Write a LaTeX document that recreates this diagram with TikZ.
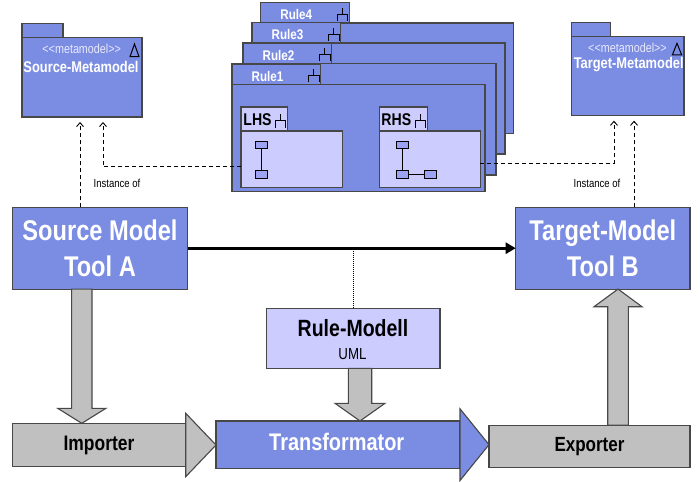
\documentclass[tikz,border=0pt]{standalone}
\usepackage{fontspec}
\setmainfont{Liberation Sans}[FakeStretch=0.83]
\usetikzlibrary{arrows.meta,calc}

\definecolor{pkgblue}{HTML}{7B8CE3}
\definecolor{lav}{HTML}{CCCCFF}
\definecolor{elemfill}{HTML}{9CA3F2}
\definecolor{edgegray}{HTML}{474747}
\definecolor{blockgray}{HTML}{C0C0C0}
\definecolor{stereo}{HTML}{E8EAFF}

\newcommand\fsz[2]{\fontsize{#1}{#2}\selectfont}

% UML subsystem glyph: stem on top, bar, two legs
\newcommand\forkicon[4]{% #1 left, #2 top, #3 width, #4 height
  \draw[line width=1pt,black] (#1+#3/2,#2) -- (#1+#3/2,#2+#4/2)
    (#1,#2+#4) -- (#1,#2+#4/2) -- (#1+#3,#2+#4/2) -- (#1+#3,#2+#4);}

% one rule package of the stack: tab with label and glyph, plus body
\newcommand\rulepkg[5]{% #1 name, #2 label, #3 left, #4 top, #5 bottom
  \node[pkgbox, anchor=north west, minimum width=88.5pt, minimum height=20.3pt] (#1tab) at (#3,#4) {};
  \node[pkgbox, anchor=north west, minimum width=253pt, minimum height={#5-#4-20.3}] (#1) at (#3,#4+20.3) {};
  \node[font=\fsz{14}{16}\bfseries, text=white] (#1label) at (#3+35.5,#4+12) {#2};
  \forkicon{#3+76.3}{#4+5.3}{10.7}{13};}

% vertical block arrow: #1 centre x, #2 half shaft, #3 half head, #4 signed head length
\newcommand\vblockarrow[6]{%
  \draw[grayblk] let \p1=(#5), \p2=(#6) in
    (#1pt-#2pt,\y1) -- (#1pt+#2pt,\y1) -- (#1pt+#2pt,\y2+#4pt) -- (#1pt+#3pt,\y2+#4pt)
    -- (#1pt,\y2) -- (#1pt-#3pt,\y2+#4pt) -- (#1pt-#2pt,\y2+#4pt) -- cycle;}

\begin{document}
\begin{tikzpicture}[x=1pt,y=-1pt,
  pkg/.style={draw=edgegray, line width=1.1pt, fill=pkgblue},
  pkgbox/.style={pkg, rectangle, inner sep=0pt, outer sep=0pt},
  lavbox/.style={draw=edgegray, line width=1.1pt, fill=lav, rectangle, inner sep=0pt, outer sep=0pt},
  graybox/.style={draw=edgegray, line width=1.1pt, fill=blockgray, rectangle, inner sep=0pt, outer sep=0pt},
  elem/.style={draw=black, line width=0.9pt, fill=elemfill, rectangle, inner sep=0pt, outer sep=0pt,
    minimum width=11.6pt, minimum height=7.3pt},
  grayblk/.style={fill=blockgray, draw=edgegray, line width=1.1pt},
  dep/.style={dash pattern=on 4pt off 3pt, line width=0.9pt, shorten >=5pt,
    -{Straight Barb[length=4pt,width=7pt]}},
  bigtext/.style={text=white, font=\fsz{28.5}{36.3}\bfseries, align=center},
  stereotext/.style={text=stereo, font=\fsz{13}{15}},
  mmtitle/.style={text=white, font=\fsz{15.5}{18}\bfseries},
  note/.style={font=\fsz{11.5}{13}}
]
\useasboundingbox (0,0) rectangle (700,481);

% ---------- metamodel packages ----------
\node[pkgbox, minimum width=120pt, minimum height=79.5pt] (srcmm) at (82,77.25) {};
\draw[pkg] (srcmm.north west) rectangle ++(41,-14);
\node[stereotext] (srcst) at (81.7,48.5) {<\kern0pt<metamodel>\kern0pt>};
\draw[line width=1pt] (130,56.7) -- (134.5,44) -- (139,56.7) -- cycle;
\node[mmtitle] (srcname) at (81,66.7) {Source-Metamodel};

\node[pkgbox, minimum width=112.3pt, minimum height=79pt] (tgtmm) at (627.85,76.2) {};
\draw[pkg] (tgtmm.north west) rectangle ++(39,-14);
\node[stereotext] (tgtst) at (627.5,47.5) {<\kern0pt<metamodel>\kern0pt>};
\draw[line width=1pt] (672.3,55) -- (677,43.3) -- (681.7,55) -- cycle;
\node[mmtitle] (tgtname) at (628.7,65) {Target-Metamodel};

% ---------- stack of rules ----------
\rulepkg{rulefour}{Rule4}{260.7}{2.7}{133.3}
\rulepkg{rulethree}{Rule3}{252}{22.7}{154}
\rulepkg{ruletwo}{Rule2}{243}{43}{175}
\rulepkg{ruleone}{Rule1}{232}{64}{191.7}

% left and right hand sides of Rule1
\node[lavbox, anchor=north west, minimum width=46.7pt, minimum height=24pt] (lhstab) at (241,107) {};
\node[lavbox, anchor=north west, minimum width=101.3pt, minimum height=56.3pt] (lhs) at (241,131) {};
\node[font=\fsz{17}{19}\bfseries] (lhslabel) at (257.5,119.3) {LHS};
\forkicon{275}{114.3}{10.7}{13.4}

\node[lavbox, anchor=north west, minimum width=48pt, minimum height=24pt] (rhstab) at (379.3,107) {};
\node[lavbox, anchor=north west, minimum width=101pt, minimum height=56.3pt] (rhs) at (379.3,131) {};
\node[font=\fsz{17}{19}\bfseries] (rhslabel) at (396.3,119.3) {RHS};
\forkicon{415}{114.3}{10.7}{13.4}

\node[elem] (la) at (261.5,145.3) {};
\node[elem] (lb) at (261.5,174.3) {};
\draw[line width=1pt] (la) -- (lb);

\node[elem] (ra) at (402.3,145.3) {};
\node[elem] (rb) at (402.3,174.3) {};
\node[elem] (rc) at (430.5,174.3) {};
\draw[line width=1pt] (ra) -- (rb) -- (rc);

% ---------- main boxes ----------
\node[pkgbox, minimum width=175.4pt, minimum height=81.7pt, bigtext] (srcA) at (100,248.2)
  {Source Model\\Tool A};
\node[pkgbox, minimum width=174.3pt, minimum height=81.7pt, bigtext, font=\fsz{28.5}{36}\bfseries] (tgtB) at (602.85,248.2)
  {Target-Model\\Tool B};
\node[lavbox, minimum width=173.3pt, minimum height=60pt] (rulem) at (353.3,338.3) {};
\node[font=\fsz{23.5}{26}\bfseries] (rmtitle) at (353,328.5) {Rule-Modell};
\node[font=\fsz{16}{18}] (rmuml) at (352.5,354) {UML};

% ---------- instance-of dependencies ----------
\coordinate (srcup) at ($(srcA.north)+(-20,0)$);
\coordinate (tgtup) at ($(tgtB.north)+(31.2,0)$);
\draw[dep] (srcup) -- (srcup |- srcmm.south);
\draw[dep] (tgtup) -- (tgtup |- tgtmm.south);
\draw[dep] ($(lhs.west)+(0,7.5)$) -| ($(srcmm.south)+(21,0)$);
\draw[dep] ($(rhs.east)+(0,4.3)$) -| ($(tgtmm.south)+(-13.9,0)$);
\node[note] (instsrc) at (117,183) {Instance of};
\node[note] (insttgt) at (597,183) {Instance of};

% ---------- tool to tool ----------
\draw[line width=3pt, -{Triangle[length=10pt,width=11pt]}] (srcA) -- (tgtB);
\draw[line width=1.5pt, dash pattern=on 1pt off 1pt] (rulem.north) -- (rulem.north |- srcA.east);

% ---------- transformation chain ----------
\node[graybox, minimum width=173.4pt, minimum height=43.4pt, font=\fsz{21}{23}\bfseries] (imp) at (99,445) {Importer};
\draw[grayblk] let \p1=(imp.east) in
  (\x1,\y1+31.7pt) -- (\x1+30.3pt,\y1) -- (\x1,\y1-31.7pt) -- cycle;

\node[pkgbox, minimum width=244pt, minimum height=47.3pt, text=white, font=\fsz{24}{26}\bfseries] (trans) at (338,444.65) {};
\draw[pkg] let \p1=(trans.east) in
  (\x1,\y1+35.85pt) -- (\x1+29pt,\y1) -- (\x1,\y1-35.85pt) -- cycle;
\node[text=white, font=\fsz{24}{26}\bfseries] (translabel) at (336.7,441.7) {Transformator};

\node[graybox, minimum width=201pt, minimum height=42.3pt, font=\fsz{20.5}{23}\bfseries] (exp) at (589.5,446.2) {Exporter};

\vblockarrow{81.8}{10.15}{24.15}{15}{srcA.south}{imp.north}
\vblockarrow{360}{11.7}{25}{17.7}{rulem.south}{trans.north}
\vblockarrow{618}{10.3}{24}{-17.7}{exp.north}{tgtB.south}
\end{tikzpicture}
\end{document}
